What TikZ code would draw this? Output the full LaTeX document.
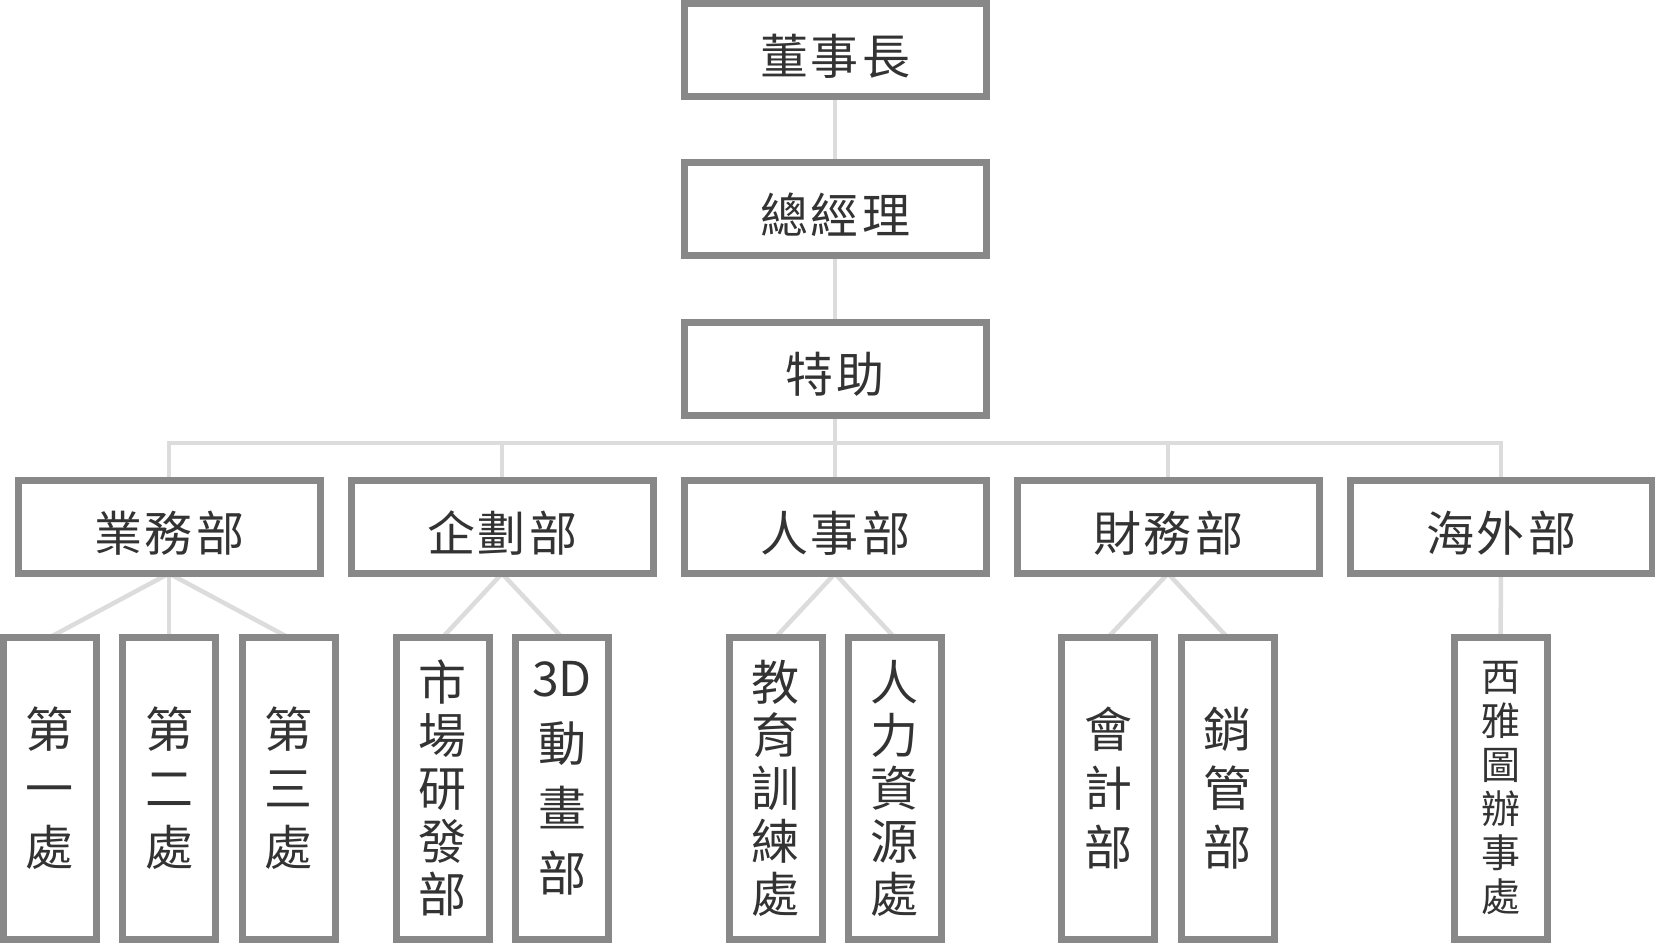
\documentclass[tikz,border=0pt]{standalone}
\usepackage{fontspec}
\setmainfont{Noto Sans CJK TC}
\usetikzlibrary{backgrounds}
\definecolor{boxgray}{HTML}{888888}
\definecolor{linegray}{HTML}{DCDCDC}
\definecolor{txtgray}{HTML}{333333}
\newcommand\chgap{\hspace{3pt}}
\begin{document}
\begin{tikzpicture}[x=1pt,y=-1pt,
  hbox/.style={draw=boxgray, line width=7pt, fill=white, minimum width=302pt,
    minimum height=93pt, inner sep=0pt, outer sep=0pt, text=txtgray,
    font=\fontsize{48}{48}\selectfont, text height=48pt, text depth=0pt},
  vbox/.style={draw=boxgray, line width=7pt, fill=white, minimum width=93pt,
    minimum height=302pt, inner sep=0pt, outer sep=0pt, text=txtgray, align=center},
  vthree/.style={vbox, font=\fontsize{48}{59}\selectfont},
  vfive/.style={vbox, font=\fontsize{48}{53}\selectfont},
  vfour/.style={vbox, font=\fontsize{48}{65}\selectfont},
  vsix/.style={vbox, font=\fontsize{39}{44}\selectfont},
  conn/.style={draw=linegray, line width=4.5pt}]
\useasboundingbox (0,0) rectangle (1655,944);
% top chain
\node[hbox] (ceo) at (835,50.5) {董\chgap 事\chgap 長};
\node[hbox] (gm) at (835,209.5) {總\chgap 經\chgap 理};
\node[hbox] (ta) at (835,368.5) {特\chgap 助};
% departments
\node[hbox] (d1) at (169,527) {業\chgap 務\chgap 部};
\node[hbox] (d2) at (502,527) {企\chgap 劃\chgap 部};
\node[hbox] (d3) at (835,527) {人\chgap 事\chgap 部};
\node[hbox] (d4) at (1168,527) {財\chgap 務\chgap 部};
\node[hbox] (d5) at (1501,527) {海\chgap 外\chgap 部};
% leaves
\node[vthree] (l11) at (49.5,788.5) {第\\一\\處};
\node[vthree] (l12) at (169,788.5) {第\\二\\處};
\node[vthree] (l13) at (288.5,788.5) {第\\三\\處};
\node[vfive] (l21) at (442.5,788.5) {市\\場\\研\\發\\部};
\node[vfour] (l22) at (562,788.5) {3D\\動\\畫\\部\rule[-25pt]{0pt}{25pt}};
\node[vfive] (l31) at (775.5,788.5) {教\\育\\訓\\練\\處};
\node[vfive] (l32) at (894.5,788.5) {人\\力\\資\\源\\處};
\node[vthree] (l41) at (1108,788.5) {會\\計\\部};
\node[vthree] (l42) at (1227.5,788.5) {銷\\管\\部};
\node[vsix] (l51) at (1500.5,788.5) {西\\雅\\圖\\辦\\事\\處};
\coordinate (bus) at (835,443);
\begin{pgfonlayer}{background}
\draw[conn] (ceo.south) -- (gm.north);
\draw[conn] (gm.south) -- (ta.north);
\draw[conn] (ta.south) -- (d3.north);
\draw[conn] (d1.north) |- (bus) -| (d5.north);
\draw[conn] (d2.north) -- (d2.north |- bus);
\draw[conn] (d4.north) -- (d4.north |- bus);
\draw[conn] (d1.south) -- (l11.north);
\draw[conn] (d1.south) -- (l12.north);
\draw[conn] (d1.south) -- (l13.north);
\draw[conn] (d2.south) -- (l21.north);
\draw[conn] (d2.south) -- (l22.north);
\draw[conn] (d3.south) -- (l31.north);
\draw[conn] (d3.south) -- (l32.north);
\draw[conn] (d4.south) -- (l41.north);
\draw[conn] (d4.south) -- (l42.north);
\draw[conn] (d5.south) -- (l51.north);
\end{pgfonlayer}
\end{tikzpicture}
\end{document}
